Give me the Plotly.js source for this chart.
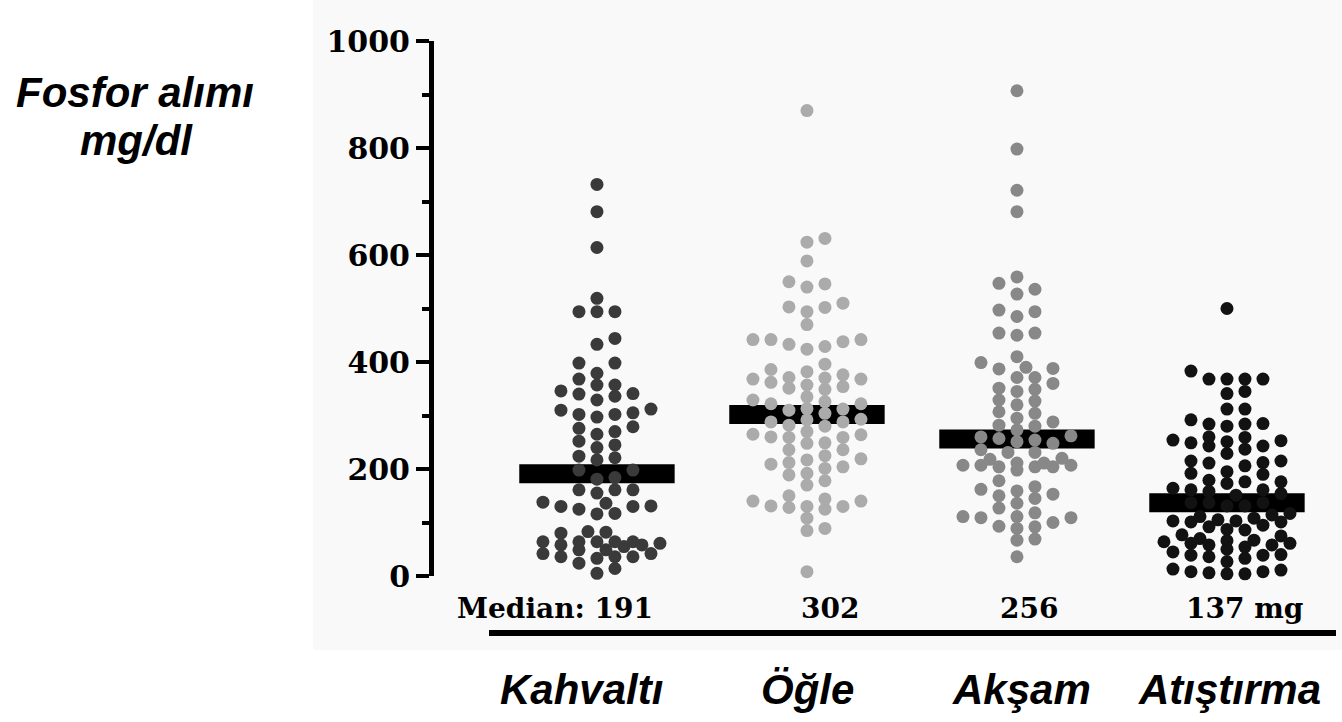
<!DOCTYPE html>
<html>
<head>
<meta charset="utf-8">
<script src="https://cdn.plot.ly/plotly-3.0.1.min.js"></script>
<style>
  html, body { margin: 0; padding: 0; background: #ffffff; }
  #chart { width: 1342px; height: 722px; }
</style>
</head>
<body>
<div id="chart"></div>
<script>
// Meal categories and phosphorus intake per subject (mg)
const categories = ['Kahvaltı', 'Öğle', 'Akşam', 'Atıştırma'];
const medianLabels = ['Median: 191', '302', '256', '137 mg'];
const medians = [191, 302, 256, 137];

const kahvalti = [
  732, 681, 614, 519, 494, 494, 494, 444, 433, 398, 398, 379,
  368, 357, 341, 336, 346, 357, 329, 340,
  305, 302, 312, 297, 302, 310,
  270, 279, 276, 265, 252, 240, 245,
  221, 217, 224, 198, 198, 181, 184,
  161, 155, 161, 161, 130, 130, 138, 117, 116, 125, 131, 136,
  83, 80, 82, 64, 64, 49, 49, 36, 36, 58, 42, 42, 64, 55, 64, 61, 33, 64, 58, 36, 24, 5, 14
];
const ogle = [
  870, 631, 624, 589, 550, 540, 546, 510, 502, 503, 494, 470,
  442, 438, 429, 424, 433, 442, 442,
  396, 386, 382, 354, 371, 349, 368, 362, 368, 370, 351, 376, 357,
  312, 304, 326, 322, 329, 313, 335, 322, 310,
  282, 260, 292, 270, 248, 288, 280, 288, 264, 236, 249, 236, 259, 293, 259, 265, 225,
  219, 192, 212, 204, 209, 189, 217, 201, 178, 170, 150,
  140, 131, 130, 125, 144, 128, 108, 130, 140, 89, 85, 8
];
const aksam = [
  907, 798, 721, 681, 559, 547, 536, 527, 497, 494, 485, 454, 450, 454,
  410, 399, 388, 387, 390, 371, 371, 360, 351, 345, 349, 327, 329, 320, 307, 304,
  295, 282, 273, 280, 288,
  260, 254, 248, 236, 251, 257, 262, 231, 231,
  207, 207, 220, 204, 211, 198, 211, 204, 218, 204, 207,
  178, 153, 167, 145, 162, 150, 159, 136, 127, 118,
  109, 100, 111, 92, 89, 93, 109, 111, 69, 67, 36
];
const atistirma = [
  500, 383, 368, 368, 368, 368, 341, 345, 312, 312,
  285, 284, 280, 284, 292,
  253, 249, 243, 259, 254, 260, 237, 243, 251, 229,
  212, 206, 215, 211, 215, 192, 190, 195, 179, 176, 176, 173,
  161, 158, 151, 154, 161, 164,
  137, 131, 137, 131, 137, 117, 111, 114,
  101, 92, 101, 105, 103, 103, 108, 95, 87, 75, 77, 86, 70,
  66, 50, 61, 45, 58, 64, 58, 61, 67, 54,
  36, 27, 39, 40, 33, 39,
  11, 8, 6, 4, 4, 8, 13
];
const groups = [kahvalti, ogle, aksam, atistirma];

// Styling / geometry
const dotColors = ['#3a3a3a', '#ababab', '#888888', '#121212'];
const W = 1342, H = 722;
const M = { l: 434, r: 22, t: 41, b: 146 };
const plotW = W - M.l - M.r, plotH = H - M.t - M.b;
const xRange = [-0.776, 3.443];
const yRange = [0, 1000];
const pxPerX = plotW / (xRange[1] - xRange[0]);
const pxPerY = plotH / (yRange[1] - yRange[0]);
const labelNudge = [-15, 1, 5, 3];
const medianNudge = [-42, 23, 12, 18];

// Column scatter: each point goes to the nearest free column slot (pixels).
// Full columns are 18 px apart; half-column slots carry a penalty. The
// spread is capped; when every slot is taken the least-crowded one is used.
function columnScatter(values) {
  const colW = 18, rowH = 11, maxK = 7;
  const slots = [];
  for (let k = -maxK; k <= maxK; k++) {
    const x = k * colW / 2;
    const half = (k % 2 !== 0);
    slots.push({ x: x, cost: Math.abs(x) + (half ? 22 : 0) + (x < 0 ? 0.1 : 0) });
  }
  slots.sort((a, b) => a.cost - b.cost);
  const order = values.map((v, i) => i).sort((a, b) => values[a] - values[b]);
  const placed = [];
  const offsets = new Array(values.length).fill(0);
  order.forEach(idx => {
    const y = values[idx] * pxPerY;
    const near = placed.filter(p => Math.abs(p.y - y) < 16);
    let best = null, fallback = 0, fallbackScore = -1;
    for (const s of slots) {
      let minD = Infinity;
      near.forEach(p => {
        const ex = (s.x - p.x) / colW, ey = (y - p.y) / rowH;
        minD = Math.min(minD, ex * ex + ey * ey);
      });
      if (minD >= 0.999) { best = s.x; break; }
      if (minD > fallbackScore + 1e-9) { fallbackScore = minD; fallback = s.x; }
    }
    if (best === null) best = fallback;
    placed.push({ x: best, y: y });
    offsets[idx] = best / pxPerX;
  });
  return offsets;
}

const traces = [];
// median bars underneath the dots
groups.forEach((vals, i) => {
  traces.push({
    type: 'scatter', mode: 'lines',
    x: [i - 0.37, i + 0.37], y: [medians[i], medians[i]],
    line: { color: '#000000', width: 19 },
    hoverinfo: 'skip', showlegend: false, cliponaxis: false
  });
});
groups.forEach((vals, i) => {
  const off = columnScatter(vals);
  traces.push({
    type: 'scatter', mode: 'markers',
    name: categories[i],
    x: vals.map((v, k) => i + off[k]), y: vals,
    marker: { color: dotColors[i], size: 13, line: { width: 0 } },
    showlegend: false, cliponaxis: false
  });
});

const serif = { family: 'DejaVu Serif', size: 28, color: '#000000', weight: 'bold' };
const tickSerif = { family: 'DejaVu Serif', size: 30, color: '#000000', weight: 'bold' };
const sans = { family: 'Liberation Sans, Arial', size: 42, color: '#000000', weight: 'bold', style: 'italic' };

const toPaperX = px => (px - M.l) / plotW;
const toPaperY = py => (H - M.b - py) / plotH;

const annotations = [];
categories.forEach((c, i) => {
  annotations.push({
    x: i, y: toPaperY(608), xref: 'x', yref: 'paper',
    text: medianLabels[i], showarrow: false, xanchor: 'center', yanchor: 'middle',
    xshift: medianNudge[i], font: serif
  });
  annotations.push({
    x: i, y: toPaperY(690), xref: 'x', yref: 'paper',
    text: c, showarrow: false, xanchor: 'center', yanchor: 'middle',
    xshift: labelNudge[i], font: sans
  });
});
annotations.push({
  x: toPaperX(135), y: toPaperY(92), xref: 'paper', yref: 'paper',
  text: 'Fosfor alımı', showarrow: false, xanchor: 'center', yanchor: 'middle', font: sans
});
annotations.push({
  x: toPaperX(136), y: toPaperY(140), xref: 'paper', yref: 'paper',
  text: 'mg/dl', showarrow: false, xanchor: 'center', yanchor: 'middle', font: sans
});

const layout = {
  width: W, height: H,
  margin: M,
  paper_bgcolor: '#ffffff',
  plot_bgcolor: 'rgba(0,0,0,0)',
  showlegend: false,
  xaxis: {
    type: 'linear', range: xRange, visible: false, fixedrange: true
  },
  yaxis: {
    range: yRange, dtick: 200, tick0: 0,
    showline: true, linewidth: 5, linecolor: '#000000',
    ticks: 'outside', ticklen: 13, tickwidth: 4, tickcolor: '#000000',
    minor: { dtick: 100, ticks: 'outside', ticklen: 7, tickwidth: 4, tickcolor: '#000000' },
    showgrid: false, zeroline: false,
    tickfont: tickSerif, fixedrange: true
  },
  shapes: [
    { type: 'rect', xref: 'paper', yref: 'paper', layer: 'below',
      x0: toPaperX(313), x1: toPaperX(1342), y0: toPaperY(650), y1: toPaperY(0),
      fillcolor: '#f9f9f9', line: { width: 0 } },
    { type: 'line', xref: 'paper', yref: 'paper',
      x0: toPaperX(489), x1: toPaperX(1336), y0: toPaperY(633), y1: toPaperY(633),
      line: { color: '#000000', width: 6 } }
  ],
  annotations: annotations
};

Plotly.newPlot('chart', traces, layout, { staticPlot: true, displayModeBar: false });
</script>
</body>
</html>
